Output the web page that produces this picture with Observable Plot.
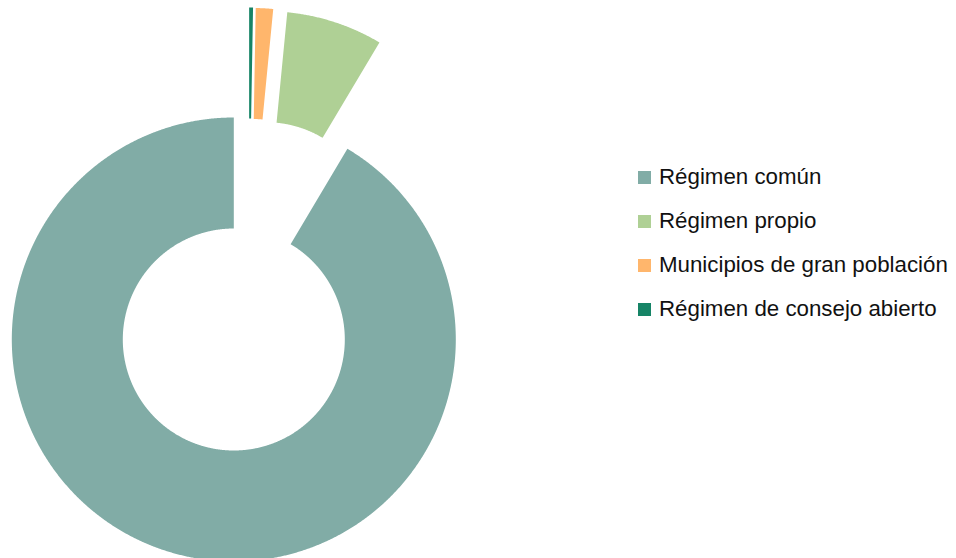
<!DOCTYPE html>
<html><head><meta charset="utf-8">
<script src="https://cdn.jsdelivr.net/npm/d3@7"></script>
<script src="https://cdn.jsdelivr.net/npm/@observablehq/plot@0.6"></script>
<style>
body{margin:0;background:#fff;font-family:"Liberation Sans",Arial,sans-serif}
#wrap{position:relative;width:956px;height:558px;overflow:hidden}
#legend{position:absolute;left:638px;top:155px}
.item{display:flex;align-items:center;height:44px;font-size:22.3px;color:#111;white-space:nowrap}
.sw{width:13px;height:13px;margin-right:8px;flex:none}
</style></head><body>
<div id="wrap"><div id="chart"></div><div id="legend"></div></div>
<script>
// Data (percent of municipalities by regime)
const categories = ["Régimen común", "Régimen propio", "Municipios de gran población", "Régimen de consejo abierto"];
const values = [91.45, 7.01, 1.26, 0.28];
const colors = ["#81aca6", "#afd095", "#ffb66c", "#168466"];

// Geometry (in units of the outer radius)
const W = 956, H = 558;
const R = 222, cx = 233.3, cy = 339;
const inner = 0.5, explodeDist = 0.5;
const total = d3.sum(values);
const maxV = d3.max(values);

// counterclockwise from 12 o'clock, angles measured clockwise from top (degrees)
let cum = 0;
const slices = categories.map((c, i) => {
  const a1 = 360 - cum * 360 / total;
  cum += values[i];
  const a0 = 360 - cum * 360 / total;
  return {cat: c, a0, a1, mid: (a0 + a1) / 2, exploded: values[i] < maxV};
});
const grp = slices.filter(s => s.exploded);
const grpMid = grp.length ? (d3.min(grp, s => s.a0) + d3.max(grp, s => s.a1)) / 2 : 0;

const pts = [];
const rad = a => a * Math.PI / 180;
for (const s of slices) {
  let ox = 0, oy = 0;
  if (s.exploded) {
    const dir = rad((s.mid + grpMid) / 2);
    ox = explodeDist * Math.sin(dir); oy = explodeDist * Math.cos(dir);
  }
  const n = Math.max(4, Math.ceil((s.a1 - s.a0) / 0.25));
  for (let k = 0; k <= n; k++) {
    const a = rad(s.a0 + (s.a1 - s.a0) * k / n);
    pts.push({cat: s.cat, x: ox + Math.sin(a), y: oy + Math.cos(a)});
  }
  for (let k = n; k >= 0; k--) {
    const a = rad(s.a0 + (s.a1 - s.a0) * k / n);
    pts.push({cat: s.cat, x: ox + inner * Math.sin(a), y: oy + inner * Math.cos(a)});
  }
}

const chart = Plot.plot({
  width: W, height: H,
  margin: 0,
  x: {domain: [-cx / R, (W - cx) / R], axis: null},
  y: {domain: [-(H - cy) / R, cy / R], axis: null},
  color: {domain: categories, range: colors},
  style: {background: "white"},
  marks: [
    Plot.line(pts, {x: "x", y: "y", z: "cat", fill: "cat", stroke: "none", curve: "linear-closed"})
  ]
});
document.getElementById("chart").appendChild(chart);

const legend = document.getElementById("legend");
categories.forEach((c, i) => {
  const it = document.createElement("div");
  it.className = "item";
  const sw = document.createElement("span");
  sw.className = "sw"; sw.style.background = colors[i];
  const tx = document.createElement("span");
  tx.textContent = c;
  it.appendChild(sw); it.appendChild(tx);
  legend.appendChild(it);
});
</script>
</body></html>
